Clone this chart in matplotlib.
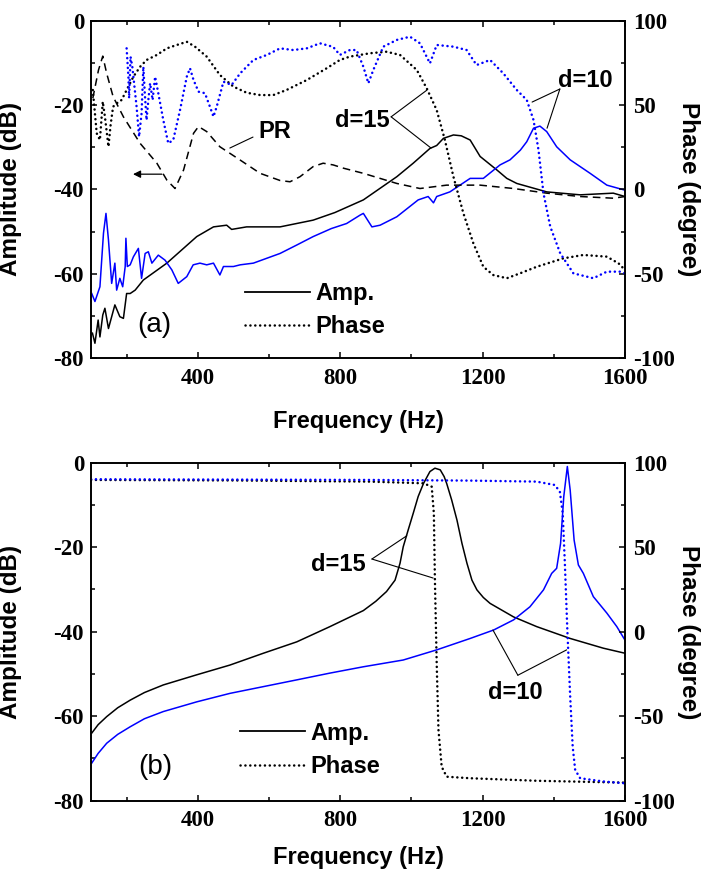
import matplotlib
matplotlib.use('Agg')
import matplotlib.pyplot as plt
from matplotlib.lines import Line2D

plt.rcParams['font.family'] = ['Liberation Sans', 'DejaVu Sans']
plt.rcParams['font.weight'] = 'bold'

# ---- panel (a): measured ----
a_f15 = [104, 111, 120, 125, 133, 139, 149, 158, 167, 181, 191, 200, 210, 224, 247, 313, 397, 444,
         481, 495, 537, 631, 724, 785, 865, 959, 1005, 1052, 1071, 1090, 1118, 1140, 1165, 1193,
         1240, 1268, 1296, 1380, 1474, 1567, 1600]
a_amp15 = [-74.1, -76.5, -71.0, -75.0, -69.8, -68.2, -73.0, -70.2, -67.4, -70.2, -70.6, -64.7, -64.7,
           -63.9, -61.5, -57.5, -51.2, -48.9, -48.5, -49.5, -48.9, -48.9, -47.3, -45.5, -42.5, -37.0,
           -33.8, -30.3, -29.6, -27.9, -27.1, -27.3, -28.3, -32.2, -35.4, -37.4, -38.6, -40.6, -41.3,
           -40.9, -41.7]

a_f10 = [102, 111, 125, 135, 142, 149, 158, 167, 172, 181, 189, 196, 198, 202, 210, 219, 233, 242,
         252, 261, 271, 289, 308, 327, 345, 369, 387, 406, 425, 444, 462, 472, 500, 519, 556, 631,
         678, 724, 775, 818, 856, 865, 889, 912, 959, 1019, 1047, 1062, 1071, 1108, 1165, 1202,
         1249, 1277, 1306, 1324, 1343, 1361, 1380, 1408, 1446, 1502, 1549, 1600]
a_amp10 = [-64.7, -66.6, -63.1, -50.4, -45.7, -52.0, -62.3, -57.5, -63.9, -61.1, -63.1, -58.3, -51.6,
           -58.3, -57.9, -56.0, -54.0, -61.1, -55.2, -54.8, -57.5, -55.6, -56.8, -59.1, -62.3, -60.7,
           -57.9, -57.5, -57.9, -57.5, -60.3, -58.3, -58.3, -57.9, -57.5, -55.2, -53.2, -51.2, -49.3,
           -48.1, -46.1, -45.7, -48.9, -48.5, -46.5, -42.5, -41.7, -43.2, -41.7, -40.6, -37.4, -37.4,
           -34.2, -33.0, -30.7, -28.7, -25.5, -25.0, -26.3, -29.9, -33.0, -36.2, -39.0, -40.2]

pr_f = [105, 121, 133, 144, 162, 191, 238, 285, 313, 336, 360, 388, 402, 425, 462, 518, 575, 631,
        659, 687, 724, 752, 780, 810, 865, 959, 1024, 1099, 1193, 1287, 1380, 1474, 1567, 1600]
pr_amp = [-18.4, -11.7, -8.4, -12.5, -18.0, -22.8, -29.1, -33.8, -37.8, -39.8, -35.4, -26.7, -25.1,
          -26.3, -29.9, -33.0, -36.2, -37.9, -38.2, -37.0, -34.6, -33.8, -34.2, -35.0, -36.2, -38.6,
          -39.8, -39.0, -39.0, -39.8, -40.9, -41.7, -42.1, -41.7]

a_pf15 = [105, 116, 125, 133, 139, 149, 155, 162, 172, 186, 200, 219, 238, 256, 285, 313, 341, 369,
          392, 425, 462, 500, 537, 575, 612, 649, 706, 762, 799, 827, 884, 930, 968, 1015, 1043,
          1071, 1094, 1118, 1146, 1174, 1202, 1230, 1268, 1305, 1352, 1427, 1483, 1549, 1582, 1600]
a_ph15 = [58.9, 33.2, 29.3, 52.0, 43.1, 25.3, 38.2, 49.0, 51.0, 53.0, 58.9, 66.8, 72.7, 76.7, 79.7,
          83.6, 85.6, 87.5, 84.6, 78.7, 67.8, 60.9, 57.3, 55.9, 55.9, 58.9, 64.8, 71.8, 76.7, 78.7,
          80.7, 81.6, 79.7, 70.8, 59.9, 47.0, 29.3, 7.5, -14.2, -32.0, -45.9, -50.8, -52.7, -49.8,
          -45.9, -40.9, -38.9, -39.9, -43.9, -47.8]

a_pf10 = [200, 205, 207, 211, 216, 221, 228, 235, 242, 247, 251, 256, 261, 266, 273, 280, 289, 303,
          317, 331, 350, 369, 378, 388, 402, 420, 434, 444, 453, 472, 495, 519, 556, 594, 631, 668,
          706, 743, 780, 799, 827, 846, 865, 879, 893, 921, 959, 996, 1024, 1052, 1071, 1118, 1155,
          1183, 1221, 1258, 1296, 1324, 1343, 1357, 1371, 1390, 1418, 1455, 1511, 1549, 1586, 1600]
a_ph10 = [83.6, 66.8, 54.0, 78.7, 72.7, 62.9, 49.0, 31.2, 45.1, 72.7, 57.0, 41.1, 53.0, 62.9, 53.0,
          66.8, 57.0, 41.1, 27.3, 29.3, 47.0, 66.8, 71.8, 64.8, 57.9, 57.0, 49.0, 43.1, 49.0, 63.8,
          61.9, 68.8, 76.7, 79.7, 83.6, 82.6, 83.6, 86.6, 84.5, 79.7, 82.6, 82.6, 72.7, 62.9, 70.8,
          84.6, 88.6, 90.5, 86.6, 74.7, 85.6, 84.6, 82.6, 73.7, 76.7, 68.8, 58.9, 53.0, 41.1, 23.3,
          -2.4, -22.1, -37.9, -49.8, -52.7, -48.8, -48.8, -49.8]

# ---- panel (b): calculated ----
b_f15 = [102, 120, 144, 175, 210, 250, 303, 397, 490, 584, 678, 771, 865, 900, 930, 954, 968, 977,
         991, 1005, 1019, 1034, 1052, 1066, 1081, 1092, 1099, 1113, 1128, 1142, 1156, 1170, 1184,
         1202, 1221, 1287, 1352, 1446, 1539, 1600]
b_amp15 = [-64.0, -62.0, -60.1, -58.0, -56.2, -54.4, -52.6, -50.2, -47.9, -45.1, -42.4, -38.8, -35.0,
           -32.8, -30.5, -27.8, -23.8, -19.9, -15.9, -12.0, -8.0, -4.9, -2.1, -1.3, -1.7, -3.3, -4.9,
           -8.8, -13.6, -19.1, -23.8, -27.8, -30.1, -31.9, -33.3, -36.5, -38.8, -41.6, -43.9, -45.1]

b_f10 = [102, 120, 144, 175, 210, 250, 303, 397, 490, 584, 678, 771, 865, 977, 1071, 1165, 1231,
         1287, 1333, 1371, 1394, 1408, 1419, 1428, 1438, 1446, 1457, 1469, 1483, 1511, 1549, 1577,
         1600]
b_amp10 = [-71.1, -68.8, -66.4, -64.3, -62.5, -60.6, -58.9, -56.6, -54.6, -53.0, -51.4, -49.8, -48.3,
           -46.7, -44.3, -41.6, -39.6, -37.2, -34.1, -30.1, -26.2, -25.0, -19.1, -8.0, -0.9, -6.5,
           -18.3, -24.2, -26.2, -31.7, -35.6, -38.8, -42.0]

b_pf15 = [100, 500, 884, 977, 1034, 1057, 1063, 1066, 1071, 1076, 1085, 1099, 1165, 1352, 1600]
b_ph15 = [89.8, 89.5, 88.8, 88.2, 87.8, 85.8, 70.1, 30.6, -18.7, -58.2, -79.9, -85.8, -86.7, -88.2,
          -89.3]

b_pf10 = [100, 884, 1165, 1352, 1403, 1417, 1425, 1431, 1438, 1446, 1453, 1460, 1474, 1539, 1600]
b_ph10 = [90.2, 89.8, 89.4, 88.8, 86.8, 82.8, 70.1, 40.5, 1.0, -38.5, -68.0, -81.8, -86.7, -88.6,
          -89.7]

xticks = [400, 800, 1200, 1600]
xminor = [200, 600, 1000, 1400]
yticks = [-80, -60, -40, -20, 0]
yminor = [-70, -50, -30, -10]
pticks = [-100, -50, 0, 50, 100]
pminor = [-75, -25, 25, 75]

tickfont = dict(fontfamily='Liberation Serif', fontweight='bold', fontsize=16.5)
dotted = (0, (0.05, 1.9))
dashed = (0, (5, 3.3))
dotkw = dict(lw=1.8, ls=dotted, dash_capstyle='round')


def setup(ax, xlab_y):
    ax2 = ax.twinx()
    ax.set_xlim(100, 1600)
    ax.set_ylim(-80, 0)
    ax2.set_ylim(-100, 100)
    ax.set_xticks(xticks, labels=[str(t) for t in xticks], **tickfont)
    ax.set_xticks(xminor, minor=True)
    ax.set_yticks(yticks, labels=[str(t) for t in yticks], **tickfont)
    ax.set_yticks(yminor, minor=True)
    ax2.set_yticks(pticks, labels=[str(t) for t in pticks], **tickfont)
    ax2.set_yticks(pminor, minor=True)
    ax.tick_params(which='both', direction='in', top=True, width=1.1)
    ax.tick_params(which='major', length=4.5)
    ax.tick_params(which='minor', length=3)
    ax.tick_params(axis='y', pad=5)
    ax.tick_params(axis='x', pad=7)
    ax2.tick_params(which='both', direction='in', width=1.1, pad=6)
    ax2.tick_params(which='major', length=4.5)
    ax2.tick_params(which='minor', length=3)
    for a in (ax, ax2):
        for s in a.spines.values():
            s.set_linewidth(1.2)
    ax.set_xlabel('Frequency (Hz)', fontsize=17, fontweight='bold')
    ax.set_ylabel('Amplitude (dB)', fontsize=17.5, fontweight='bold')
    ax2.set_ylabel('Phase (degree)', fontsize=17.5, fontweight='bold', rotation=270)
    ax.xaxis.set_label_coords(0.5, xlab_y)
    ax.yaxis.set_label_coords(-0.129, 0.5)
    ax2.yaxis.set_label_coords(1.14, 0.5)
    return ax2


def leader(ax, start, end):
    ax.annotate('', xy=end, xytext=start,
                arrowprops=dict(arrowstyle='-', lw=0.8, color='k', shrinkA=0, shrinkB=0))


def legend(ax, x, y):
    h = [Line2D([], [], color='k', lw=1.3),
         Line2D([], [], color='k', **dotkw)]
    ax.legend(h, ['Amp.', 'Phase'], loc='center left', bbox_to_anchor=(x, y), frameon=False,
              borderpad=0, borderaxespad=0, handlelength=2.75, handletextpad=0.25,
              labelspacing=0.45, prop=dict(family='Liberation Sans', weight='bold', size=17))


fig = plt.figure(figsize=(7.1, 8.73), dpi=100)
ax_a = fig.add_axes([0.1282, 0.5899, 0.7521, 0.3864])
ax_b = fig.add_axes([0.1282, 0.0828, 0.7521, 0.3872])

# (a)
pa = setup(ax_a, -0.154)
ax_a.plot(a_f15, a_amp15, color='k', lw=1.1)
ax_a.plot(a_f10, a_amp10, color='blue', lw=1.1)
ax_a.plot(pr_f, pr_amp, color='k', lw=1.1, ls=dashed)
pa.plot(a_pf15, a_ph15, color='k', **dotkw)
pa.plot(a_pf10, a_ph10, color='blue', **dotkw)

ax_a.text(861, -23.6, 'd=15', ha='center', va='center', fontsize=17)
leader(ax_a, (943, -22.8), (1043, -16.5))
leader(ax_a, (943, -22.8), (1055, -30.2))
ax_a.text(1488, -14.1, 'd=10', ha='center', va='center', fontsize=17)
leader(ax_a, (1417, -16.2), (1339, -19.3))
leader(ax_a, (1417, -16.2), (1381, -25.5))
ax_a.text(617, -26.2, 'PR', ha='center', va='center', fontsize=17)
leader(ax_a, (555, -27.6), (490, -30.2))
ax_a.annotate('', xy=(218, -36.4), xytext=(299, -36.4),
              arrowprops=dict(arrowstyle='-|>', lw=0.9, color='k', mutation_scale=11,
                              shrinkA=0, shrinkB=0))
ax_a.text(0.118, 0.098, '(a)', transform=ax_a.transAxes, ha='center', va='center',
          fontsize=20, fontweight='normal')
legend(ax_a, 0.288, 0.142)

# (b)
pb = setup(ax_b, -0.134)
ax_b.plot(b_f15, b_amp15, color='k', lw=1.1)
ax_b.plot(b_f10, b_amp10, color='blue', lw=1.1)
pb.plot(b_pf15, b_ph15, color='k', **dotkw)
pb.plot(b_pf10, b_ph10, color='blue', **dotkw)

ax_b.text(794, -24.2, 'd=15', ha='center', va='center', fontsize=17)
leader(ax_b, (889, -22.8), (987, -17.3))
leader(ax_b, (889, -22.8), (1061, -27.3))
ax_b.text(1291, -54.3, 'd=10', ha='center', va='center', fontsize=17)
leader(ax_b, (1299, -50.3), (1229, -39.6))
leader(ax_b, (1299, -50.3), (1436, -44.3))
ax_b.text(0.12, 0.10, '(b)', transform=ax_b.transAxes, ha='center', va='center',
          fontsize=20, fontweight='normal')
legend(ax_b, 0.279, 0.15)

fig.savefig('out.png', dpi=100)
